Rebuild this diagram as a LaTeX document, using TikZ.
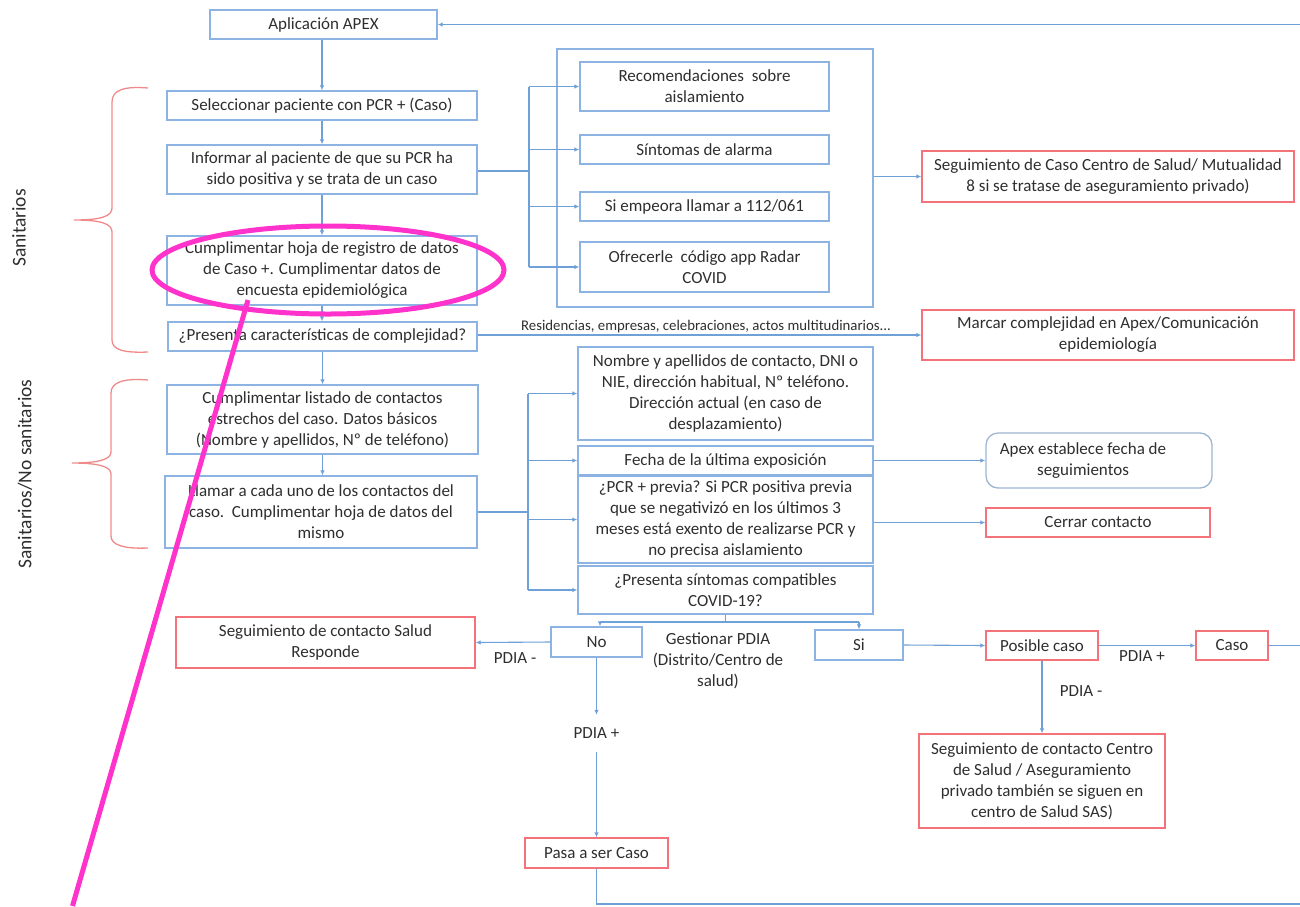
\documentclass[tikz,border=0pt]{standalone}
\usepackage{fontspec}
\setmainfont{Carlito}
\usetikzlibrary{arrows.meta}
\definecolor{boxblue}{HTML}{8DB3E2}
\definecolor{lineblue}{HTML}{6FA0D8}
\definecolor{boxred}{HTML}{F4737A}
\definecolor{bracered}{HTML}{F08A8A}
\definecolor{txt}{HTML}{2E2E2E}
\definecolor{annot}{HTML}{FF33CC}
\definecolor{roundblue}{HTML}{9DB5D0}
\newcommand\fs{\fontsize{17}{21}\selectfont}
\tikzset{
  bx/.style={draw=boxblue, line width=1.3pt, inner sep=0pt, align=center, font=\fs, text=txt},
  rbx/.style={bx, draw=boxred},
  rndbx/.style={bx, draw=roundblue, rounded corners=12pt},
  lbl/.style={font=\fs, text=txt, align=center, inner sep=0pt},
  arr/.style={draw=lineblue, line width=1.1pt, -{Latex[length=5pt,width=4.5pt]}},
  ln/.style={draw=lineblue, line width=1.1pt},
  brc/.style={draw=bracered, line width=1.3pt},
  mk/.style={draw=annot, line width=5pt},
}
\begin{document}
\begin{tikzpicture}[x=1pt,y=-1pt]
\useasboundingbox (0,0) rectangle (1300,906);

% left column
\node[bx, minimum width=227pt, minimum height=29pt] (apex) at (323.5,24.5) {Aplicación APEX};
\node[bx, minimum width=310pt, minimum height=29pt] (sel) at (322,105.5) {Seleccionar paciente con PCR + (Caso)};
\node[bx, minimum width=310pt, minimum height=49pt] (inf) at (322,169.5) {Informar al paciente de que su PCR ha\\sido positiva y se trata de un caso};
\node[bx, minimum width=310pt, minimum height=69pt] (cump) at (322,270.5) {Cumplimentar hoja de registro de datos\\de Caso +. Cumplimentar datos de\\encuesta epidemiológica};
\node[bx, minimum width=309pt, minimum height=29pt] (pres) at (322.5,336.5) {¿Presenta características de complejidad?};
\node[bx, minimum width=311pt, minimum height=69pt] (list) at (322.5,419.5) {Cumplimentar listado de contactos\\estrechos del caso. Datos básicos\\(Nombre y apellidos, Nº de teléfono)};
\node[bx, minimum width=312pt, minimum height=72pt] (llam) at (321,512) {Llamar a cada uno de los contactos del\\caso.\ \ Cumplimentar hoja de datos del\\mismo};

% container and recommendations
\node[bx, minimum width=316pt, minimum height=258pt] (cont) at (715,178) {};
\node[bx, minimum width=249pt, minimum height=49pt] (rec) at (704.5,86.5) {Recomendaciones\ \ sobre\\aislamiento};
\node[bx, minimum width=249pt, minimum height=29pt] (sint) at (704.5,149.5) {Síntomas de alarma};
\node[bx, minimum width=249pt, minimum height=29pt] (emp) at (704.5,206.5) {Si empeora llamar a 112/061};
\node[bx, minimum width=249pt, minimum height=50pt] (ofr) at (704.5,267) {Ofrecerle\ \ código app Radar\\COVID};
\node[rbx, minimum width=372pt, minimum height=51pt] (segc) at (1108,176.5) {Seguimiento de Caso Centro de Salud/ Mutualidad\\8 si se tratase de aseguramiento privado)};
\node[rbx, minimum width=372pt, minimum height=50pt] (marc) at (1108,335) {Marcar complejidad en Apex/Comunicación\\epidemiología};

% contacts column
\node[bx, minimum width=295pt, minimum height=93pt] (nom) at (725.5,393.5) {Nombre y apellidos de contacto, DNI o\\NIE, dirección habitual, Nº teléfono.\\Dirección actual (en caso de\\desplazamiento)};
\node[bx, minimum width=295pt, minimum height=29pt] (fec) at (725.5,460.5) {Fecha de la última exposición};
\node[bx, minimum width=295pt, minimum height=87pt] (pcr) at (725.5,519.5) {¿PCR + previa? Si PCR positiva previa\\que se negativizó en los últimos 3\\meses está exento de realizarse PCR y\\no precisa aislamiento};
\node[bx, minimum width=295pt, minimum height=48pt] (sin) at (725.5,590) {¿Presenta síntomas compatibles\\COVID-19?};
\node[rndbx, minimum width=226pt, minimum height=55pt] (apexf) at (1099,460.5) {};
\node[lbl] (apexft) at (1083,461) {Apex establece fecha de\\seguimientos};
\node[rbx, minimum width=224pt, minimum height=29pt] (cerr) at (1098,522.5) {Cerrar contacto};

% bottom
\node[bx, minimum width=91pt, minimum height=30pt] (no) at (596.5,642) {No};
\node[bx, minimum width=88pt, minimum height=30pt] (si) at (859,645) {Si};
\node[rbx, minimum width=299pt, minimum height=51pt] (segsr) at (325.5,642.5) {Seguimiento de contacto Salud\\Responde};
\node[rbx, minimum width=112pt, minimum height=29pt] (pos) at (1042,645.5) {Posible caso};
\node[rbx, minimum width=72pt, minimum height=29pt] (caso) at (1232,645.5) {Caso};
\node[rbx, minimum width=246pt, minimum height=94pt] (segcs) at (1042,781) {Seguimiento de contacto Centro\\de Salud / Aseguramiento\\privado también se siguen en\\centro de Salud SAS)};
\node[rbx, minimum width=143pt, minimum height=30pt] (pasa) at (596.5,853) {Pasa a ser Caso};
\node[lbl] (gest) at (718,661) {Gestionar PDIA\\(Distrito/Centro de\\salud)};
\node[lbl, minimum height=37pt] (pdiap) at (596.5,733.5) {PDIA +};
\node[lbl] (pdiam1) at (515,658) {PDIA -};
\node[lbl] (pdiap2) at (1142,656) {PDIA +};
\node[lbl] (pdiam2) at (1081,691) {PDIA -};
\node[lbl, font=\fontsize{14.8}{17}\selectfont] (res) at (706,327) {Residencias, empresas, celebraciones, actos multitudinarios...};

% side labels
\node[lbl, font=\fontsize{19.5}{22}\selectfont, rotate=90] (lsan) at (19,228) {Sanitarios};
\node[lbl, font=\fontsize{19.5}{22}\selectfont, rotate=90] (lsann) at (25,474) {Sanitarios/No sanitarios};

% braces
\draw[brc] (148,88) .. controls (124,86) and (112,90) .. (112,102) -- (112,208)
  .. controls (112,216) and (102,220) .. (74,220) .. controls (102,220) and (112,224) .. (112,232)
  -- (112,340) .. controls (112,350) and (124,353) .. (148,352);
\draw[brc] (148,380) .. controls (124,378) and (111,382) .. (111,393) -- (111,452)
  .. controls (111,459) and (100,463) .. (72,463) .. controls (100,463) and (111,467) .. (111,474)
  -- (111,536) .. controls (111,545) and (124,549) .. (148,548);

% vertical chain
\draw[arr] (sel.north |- apex.south) -- (sel.north);
\draw[arr] (sel.south) -- (inf.north);
\draw[arr] (inf.south) -- (cump.north);
\draw[arr] (cump.south) -- (pres.north -| cump.south);
\draw[arr] (pres.south) -- (list.north -| pres.south);
\draw[arr] (list.south) -- (llam.north -| list.south);

% recommendations fan
\coordinate (j1) at (529,171);
\draw[ln] (inf.east |- j1) -- (j1);
\draw[ln] (j1 |- rec.west) -- (j1 |- ofr.west);
\foreach \n in {rec,sint,emp,ofr} \draw[arr] (j1 |- \n.west) -- (\n.west);
\draw[arr] (cont.east |- segc.west) -- (segc.west);
\draw[arr] (pres.east |- marc.west) -- (marc.west);

% contacts fan
\coordinate (j2) at (528,512);
\draw[ln] (llam.east |- j2) -- (j2);
\draw[ln] (j2 |- nom.west) -- (j2 |- sin.west);
\foreach \n in {nom,fec,pcr,sin} \draw[arr] (j2 |- \n.west) -- (\n.west);
\draw[arr] (fec.east) -- (apexf.west);
\draw[arr] (pcr.east |- cerr.west) -- (cerr.west);

% symptoms branch
\coordinate (bl) at (600,622);
\coordinate (br) at (859,622);
\draw[ln] (sin.south) -- (sin.south |- bl);
\draw[ln] (bl) -- (br);
\draw[arr] (bl) -- (bl |- no.north);
\draw[arr] (br) -- (si.north);
\draw[arr] (no.west) -- (segsr.east);
\draw[arr] (no.south) -- (pdiap.north);
\draw[arr] (pdiap.south) -- (pasa.north);
\draw[arr] (si.east) -- (pos.west);
\draw[arr] (pos.east) -- (caso.west);
\draw[arr] (pos.south) -- (segcs.north);

% loops to the edge
\coordinate (eR) at (1300,645.5);
\coordinate (eT) at (1300,24.5);
\coordinate (eB) at (596.5,904);
\coordinate (eBR) at (1300,904);
\draw[ln] (caso.east) -- (eR);
\draw[arr] (eT) -- (apex.east);
\draw[ln] (pasa.south) -- (eB) -- (eBR);

% magenta annotation
\draw[mk] (328,270) ellipse [x radius=176pt, y radius=44pt];
\draw[mk] (248,300) -- (72.5,906);
\end{tikzpicture}
\end{document}
